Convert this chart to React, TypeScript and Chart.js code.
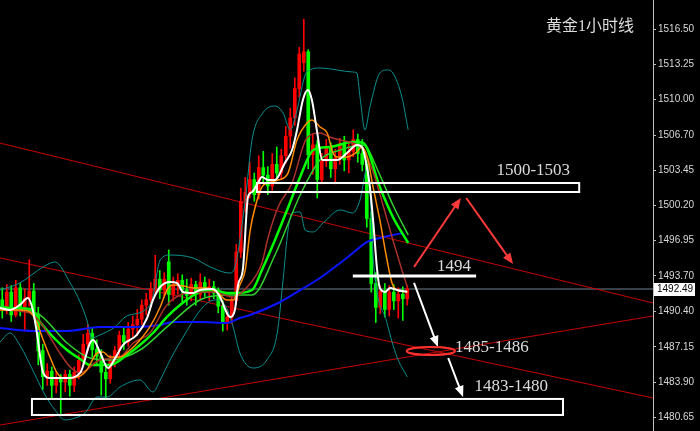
import { useEffect, useRef } from 'react';
import { Chart, registerables } from 'chart.js';

Chart.register(...registerables);

const TITLE = '黄金1小时线';
const Y_TICKS = [1480.65, 1483.9, 1487.15, 1490.4, 1493.7, 1496.95, 1500.2, 1503.45, 1506.7, 1510.0, 1513.25, 1516.5];
const Y_MIN = 1479.38;
const Y_MAX = 1519.18;
const X_MIN = -0.5;
const X_MAX = 144.6;
const LAST_PRICE = 1492.49;

const OPEN = [
  1491.5, 1490.6, 1492.2, 1490.1, 1492.6, 1490.8, 1491.6, 1492.3, 1490.2, 1486.8,
  1484.4, 1484.9, 1483.6, 1484.2, 1483.9, 1484.6, 1483.6, 1484.8, 1485.9, 1487.4,
  1488.4, 1486.9, 1486.3, 1484.8, 1484.2, 1485.9, 1486.8, 1488.2, 1487.6, 1488.8,
  1489.2, 1489.7, 1491.0, 1491.5, 1492.5, 1493.4, 1492.4, 1495.0, 1492.0, 1492.8,
  1493.3, 1492.4, 1491.9, 1492.9, 1492.0, 1493.1, 1492.2, 1492.7, 1492.1, 1490.9,
  1489.4, 1489.9, 1491.4, 1495.9, 1500.6, 1501.4, 1502.6, 1501.2, 1503.7, 1503.0,
  1502.0, 1504.0, 1503.2, 1504.8, 1506.6, 1508.3, 1511.0, 1513.4, 1514.4, 1504.9,
  1505.8, 1502.6, 1504.3, 1505.5, 1503.6, 1504.6, 1505.9, 1504.4, 1505.2, 1506.3,
  1505.0, 1504.0, 1499.0, 1493.0, 1490.8, 1492.3, 1490.6, 1492.2, 1491.4, 1492.0, 1491.6,
];
const HIGH = [
  1492.6, 1492.9, 1492.8, 1493.3, 1493.0, 1492.5, 1495.2, 1493.0, 1490.8, 1487.4,
  1485.6, 1485.3, 1484.8, 1484.6, 1485.0, 1485.0, 1485.3, 1486.4, 1488.3, 1489.2,
  1488.9, 1487.8, 1486.9, 1485.6, 1486.4, 1487.2, 1488.6, 1488.9, 1489.4, 1490.0,
  1490.6, 1491.5, 1492.1, 1493.1, 1495.6, 1494.2, 1494.0, 1496.1, 1493.6, 1493.9,
  1493.8, 1493.4, 1493.5, 1493.2, 1493.9, 1493.6, 1493.4, 1493.2, 1492.6, 1491.4,
  1490.6, 1491.8, 1496.6, 1501.8, 1502.8, 1504.2, 1503.2, 1504.8, 1505.2, 1503.8,
  1505.0, 1505.6, 1505.4, 1507.5, 1509.2, 1512.0, 1514.8, 1517.4, 1514.6, 1506.8,
  1506.2, 1505.0, 1506.3, 1506.0, 1505.4, 1506.4, 1506.6, 1505.9, 1507.2, 1506.8,
  1506.3, 1504.4, 1499.6, 1494.0, 1492.8, 1493.0, 1492.8, 1492.9, 1492.6, 1492.7, 1492.8,
];
const LOW = [
  1489.8, 1490.2, 1489.5, 1489.9, 1490.0, 1488.6, 1490.9, 1489.8, 1485.5, 1483.2,
  1483.6, 1482.4, 1482.9, 1481.0, 1483.0, 1482.6, 1483.0, 1484.2, 1485.4, 1486.8,
  1486.2, 1485.4, 1482.7, 1482.4, 1483.8, 1485.3, 1486.2, 1486.9, 1487.2, 1488.1,
  1488.2, 1489.2, 1490.1, 1490.9, 1492.0, 1491.6, 1491.9, 1491.0, 1491.4, 1492.0,
  1491.2, 1491.0, 1491.4, 1491.0, 1491.6, 1491.8, 1491.4, 1491.6, 1490.3, 1488.6,
  1488.7, 1489.3, 1491.0, 1495.4, 1499.6, 1500.9, 1500.6, 1500.8, 1502.4, 1501.2,
  1501.6, 1502.7, 1502.6, 1504.1, 1505.5, 1507.6, 1510.2, 1512.6, 1503.6, 1503.1,
  1500.9, 1502.2, 1503.8, 1502.8, 1502.2, 1504.0, 1503.4, 1503.2, 1504.7, 1504.2,
  1503.4, 1498.2, 1492.2, 1489.4, 1490.2, 1489.9, 1490.0, 1490.6, 1489.8, 1489.6, 1491.0,
];
const CLOSE = [
  1490.6, 1492.2, 1490.1, 1492.6, 1490.8, 1491.6, 1492.3, 1490.2, 1486.8, 1484.4,
  1484.9, 1483.6, 1484.2, 1483.9, 1484.6, 1483.6, 1484.8, 1485.9, 1487.4, 1488.4,
  1486.9, 1486.3, 1484.8, 1484.2, 1485.9, 1486.8, 1488.2, 1487.6, 1488.8, 1489.2,
  1489.7, 1491.0, 1491.5, 1492.5, 1493.4, 1492.4, 1493.4, 1492.0, 1492.8, 1493.3,
  1492.4, 1491.9, 1492.9, 1492.0, 1493.1, 1492.2, 1492.7, 1492.1, 1490.9, 1489.4,
  1489.9, 1491.4, 1495.9, 1500.6, 1501.4, 1502.6, 1501.2, 1503.7, 1503.0, 1502.0,
  1504.0, 1503.2, 1504.8, 1506.6, 1508.3, 1511.0, 1514.2, 1514.4, 1504.9, 1505.8,
  1502.6, 1504.3, 1505.5, 1503.6, 1504.6, 1505.9, 1504.4, 1505.2, 1506.3, 1505.0,
  1504.0, 1499.0, 1493.0, 1490.8, 1492.3, 1490.6, 1492.2, 1491.4, 1492.0, 1491.6, 1492.5,
];

type Pt = [number, number];

const MA_WHITE: Pt[] = [
  [-0.5, 1490.74], [1.7, 1490.56], [3.9, 1491.02], [5.7, 1491.66], [6.8, 1490.56], [7.7, 1488.43],
  [9.1, 1484.74], [10.6, 1484.27], [14.4, 1484.27], [17.3, 1484.74], [19.5, 1487.51], [20.2, 1487.79],
  [21.7, 1486.68], [23.5, 1485.2], [25.1, 1486.12], [26.8, 1487.32], [29.9, 1488.25], [32.2, 1489.82],
  [33.5, 1491.48], [35.1, 1492.68], [37.3, 1493.14], [38.8, 1493.05], [40.2, 1492.22], [42.4, 1492.12],
  [43.9, 1492.4], [46.8, 1492.49], [48.4, 1491.76], [49.9, 1490.28], [50.6, 1489.91], [51.7, 1490.56],
  [52.4, 1492.86], [53.5, 1494.43], [54.6, 1500.99], [55.5, 1501.45], [56.8, 1502.28], [57.7, 1502.84],
  [59.1, 1502.56], [60.6, 1502.56], [62.8, 1504.13], [64.4, 1505.33], [65.5, 1507.18], [66.8, 1509.95],
  [67.9, 1510.87], [68.8, 1509.95], [69.9, 1507.18], [71.1, 1504.41], [74.4, 1504.41], [76.6, 1505.05],
  [78.8, 1505.79], [79.9, 1505.61], [80.6, 1504.68], [81.7, 1501.91], [82.4, 1498.87], [83.3, 1494.25],
  [83.9, 1492.59], [85.1, 1492.22], [86.2, 1492.59], [87.7, 1492.4], [90.0, 1492.22],
];
const MA_ORANGE: Pt[] = [
  [-0.5, 1490.56], [3.9, 1490.56], [6.2, 1490.37], [7.7, 1489.36], [9.1, 1487.79], [10.6, 1486.22],
  [12.2, 1484.74], [13.5, 1484.27], [15.1, 1484.27], [17.3, 1484.46], [18.8, 1485.02], [21.1, 1486.58],
  [22.4, 1486.68], [23.9, 1486.22], [26.2, 1486.22], [28.4, 1486.86], [30.6, 1487.79], [32.8, 1488.99],
  [35.1, 1490.83], [36.6, 1492.4], [37.9, 1492.86], [40.2, 1492.77], [42.4, 1492.59], [45.5, 1492.59],
  [47.7, 1492.22], [49.9, 1491.48], [51.3, 1491.48], [52.8, 1492.86], [54.0, 1494.25], [55.1, 1497.94],
  [56.2, 1500.07], [57.7, 1501.91], [59.1, 1502.28], [61.3, 1502.56], [63.5, 1503.2], [65.5, 1506.25],
  [67.7, 1507.82], [68.8, 1508.1], [70.6, 1507.45], [72.2, 1506.9], [73.5, 1505.05], [74.4, 1504.68],
  [76.6, 1504.68], [78.8, 1505.15], [79.9, 1505.61], [81.1, 1504.68], [82.4, 1501.91], [83.9, 1498.87],
  [85.5, 1495.17], [86.6, 1493.05], [87.7, 1492.4], [90.0, 1492.22],
];
const MA_BROWN: Pt[] = [
  [-0.5, 1490.56], [6.2, 1490.28], [8.4, 1489.45], [10.6, 1488.06], [12.8, 1486.58], [15.1, 1485.29],
  [17.3, 1484.74], [21.7, 1485.94], [26.2, 1486.22], [29.1, 1487.51], [32.8, 1488.43], [36.6, 1491.02],
  [41.1, 1492.12], [46.8, 1492.22], [51.3, 1491.76], [54.4, 1492.68], [57.7, 1494.9], [59.1, 1497.3],
  [61.3, 1500.07], [64.4, 1502.28], [67.7, 1506.44], [70.6, 1506.9], [72.8, 1506.53], [75.1, 1506.25],
  [77.9, 1505.98], [80.2, 1505.33], [82.4, 1503.3], [84.6, 1500.25], [86.8, 1497.02], [88.8, 1494.25],
  [90.0, 1492.68],
];
const MA_GREEN: Pt[] = [
  [-0.5, 1490.74], [6.2, 1490.65], [8.4, 1489.45], [11.3, 1488.06], [14.4, 1486.86], [17.3, 1486.03],
  [19.5, 1485.48], [23.9, 1485.48], [27.7, 1486.4], [30.6, 1487.32], [33.5, 1488.43], [36.6, 1489.91],
  [39.5, 1491.02], [43.9, 1492.22], [46.8, 1492.4], [49.9, 1492.12], [51.7, 1492.12], [55.5, 1492.4],
  [57.7, 1494.25], [60.6, 1497.02], [63.3, 1499.79], [66.2, 1502.84], [69.1, 1505.33], [72.8, 1505.61],
  [77.9, 1506.07], [80.2, 1505.98], [83.9, 1501.91], [86.8, 1499.14], [90.2, 1496.74],
];
const MA_LIME: Pt[] = [
  [-0.5, 1490.93], [8.4, 1490.09], [14.4, 1487.51], [19.5, 1486.12], [23.9, 1485.94], [30.6, 1486.86],
  [36.6, 1488.99], [43.9, 1491.48], [49.9, 1491.94], [55.5, 1491.94], [60.6, 1495.63], [66.2, 1501.17],
  [70.6, 1504.41], [75.1, 1505.33], [80.2, 1505.79], [83.9, 1503.02], [86.8, 1500.25], [90.2, 1497.48],
];
const MA_BLUE: Pt[] = [
  [-0.5, 1488.89], [6.8, 1488.62], [14.4, 1488.62], [21.7, 1488.99], [29.1, 1488.99], [35.1, 1489.17],
  [37.9, 1489.45], [43.9, 1489.45], [49.9, 1489.36], [52.8, 1489.82], [55.1, 1490.09], [61.3, 1491.2],
  [65.1, 1492.12], [70.6, 1493.51], [75.1, 1494.9], [77.9, 1495.82], [81.1, 1496.84], [83.9, 1497.2],
  [86.8, 1497.48], [89.1, 1497.67],
];
const BB_UPPER: Pt[] = [
  [-0.5, 1492.4], [3.9, 1493.05], [9.1, 1494.53], [11.7, 1494.99], [15.1, 1493.05], [17.3, 1491.29],
  [18.8, 1489.63], [19.9, 1487.97], [21.7, 1488.25], [25.1, 1488.99], [27.3, 1489.91], [31.7, 1490.56],
  [33.3, 1491.48], [35.1, 1495.17], [37.3, 1495.63], [42.4, 1495.36], [46.2, 1494.53], [50.6, 1493.97],
  [51.7, 1494.53], [54.0, 1500.71], [55.5, 1506.25], [57.9, 1508.75], [60.6, 1509.39], [62.4, 1508.75],
  [64.0, 1507.18], [65.5, 1509.02], [67.3, 1512.26], [68.4, 1512.72], [70.6, 1512.9], [77.9, 1512.53],
  [78.8, 1512.44], [79.5, 1510.22], [80.6, 1507.18], [81.7, 1509.3], [83.9, 1512.44], [85.5, 1512.72],
  [86.8, 1512.44], [88.8, 1510.22], [90.2, 1507.18],
];
const BB_LOWER: Pt[] = [
  [-0.5, 1487.6], [1.7, 1488.43], [3.9, 1487.32], [7.3, 1484.55], [9.5, 1482.71], [11.7, 1481.33],
  [13.9, 1480.4], [16.2, 1480.58], [18.4, 1481.05], [21.1, 1482.52], [23.3, 1482.52], [26.2, 1483.45],
  [30.6, 1484.09], [33.5, 1482.98], [35.1, 1484.09], [37.3, 1485.94], [40.2, 1488.06], [44.6, 1490.83],
  [47.3, 1491.48], [49.5, 1491.02], [51.3, 1488.99], [52.8, 1486.58], [55.7, 1485.2], [58.8, 1485.94],
  [61.1, 1488.43], [62.4, 1493.33], [63.5, 1497.94], [64.4, 1499.51], [66.2, 1499.61], [67.3, 1497.94],
  [69.1, 1497.76], [71.3, 1498.59], [75.1, 1499.79], [77.9, 1499.51], [79.5, 1500.71], [81.1, 1503.67],
  [81.7, 1501.64], [82.4, 1495.45], [85.5, 1489.36], [87.7, 1486.22], [90.0, 1484.37],
];

const TREND_LINES: Pt[][] = [
  [[-0.5, 1505.97], [144.6, 1491.2]],
  [[-0.5, 1479.93], [144.6, 1490.0]],
  [[-0.5, 1495.36], [144.6, 1482.43]],
];

// annotation anchors (data coordinates: candle index, price)
const ZONE_BOXES = [
  { x0: 56.6, x1: 128.2, p0: 1501.45, p1: 1502.28 },
  { x0: 6.6, x1: 124.6, p0: 1480.86, p1: 1482.34 },
];
const LEVEL_1494 = { x0: 77.9, x1: 105.3, p: 1493.69 };
const LABELS = [
  { text: '1500-1503', x: 118.0, p: 1503.39 },
  { text: '1494', x: 100.4, p: 1494.53 },
  { text: '1485-1486', x: 108.8, p: 1487.05 },
  { text: '1483-1480', x: 113.1, p: 1483.45 },
];
const TITLE_POS = { x: 130.6, p: 1516.69 };
const RED_ARROWS = [
  [91.5, 1494.53, 101.9, 1500.9],
  [103.1, 1500.9, 113.5, 1494.8],
];
const WHITE_ARROWS = [
  [91.5, 1493.05, 96.8, 1487.14],
  [99.1, 1486.12, 102.4, 1482.52],
];
const TARGET_ELLIPSE = { x0: 89.9, x1: 100.6, p0: 1486.4, p1: 1487.14 };

function drawArrow(ctx: CanvasRenderingContext2D, x0: number, y0: number, x1: number, y1: number, color: string, w: number) {
  const a = Math.atan2(y1 - y0, x1 - x0);
  const L = 11;
  const W = 4.5;
  ctx.strokeStyle = color;
  ctx.lineWidth = w;
  ctx.beginPath();
  ctx.moveTo(x0, y0);
  ctx.lineTo(x1 - L * 0.8 * Math.cos(a), y1 - L * 0.8 * Math.sin(a));
  ctx.stroke();
  ctx.fillStyle = color;
  ctx.beginPath();
  ctx.moveTo(x1, y1);
  ctx.lineTo(x1 - L * Math.cos(a) + W * Math.sin(a), y1 - L * Math.sin(a) - W * Math.cos(a));
  ctx.lineTo(x1 - L * Math.cos(a) - W * Math.sin(a), y1 - L * Math.sin(a) + W * Math.cos(a));
  ctx.closePath();
  ctx.fill();
}

const annotationPlugin = {
  id: 'annotations',
  afterDatasetsDraw(chart: any) {
    const { ctx } = chart;
    const xs = chart.scales.x;
    const ys = chart.scales.y;
    const px = (v: number) => xs.getPixelForValue(v);
    const py = (v: number) => ys.getPixelForValue(v);
    ctx.save();
    ctx.strokeStyle = '#ffffff';
    ctx.lineWidth = 2;
    for (const b of ZONE_BOXES) {
      const X0 = px(b.x0), X1 = px(b.x1), Y0 = py(b.p1), Y1 = py(b.p0);
      ctx.strokeRect(X0, Y0, X1 - X0, Y1 - Y0);
    }
    ctx.lineWidth = 3;
    ctx.beginPath();
    ctx.moveTo(px(LEVEL_1494.x0), py(LEVEL_1494.p));
    ctx.lineTo(px(LEVEL_1494.x1), py(LEVEL_1494.p));
    ctx.stroke();

    for (const a of RED_ARROWS) drawArrow(ctx, px(a[0]), py(a[1]), px(a[2]), py(a[3]), '#ff3a3a', 2);
    for (const a of WHITE_ARROWS) drawArrow(ctx, px(a[0]), py(a[1]), px(a[2]), py(a[3]), '#ffffff', 2);

    const ex0 = px(TARGET_ELLIPSE.x0), ex1 = px(TARGET_ELLIPSE.x1);
    const ey0 = py(TARGET_ELLIPSE.p1), ey1 = py(TARGET_ELLIPSE.p0);
    ctx.strokeStyle = '#ff3030';
    ctx.lineWidth = 2;
    ctx.beginPath();
    ctx.ellipse((ex0 + ex1) / 2, (ey0 + ey1) / 2, (ex1 - ex0) / 2, (ey1 - ey0) / 2, 0, 0, Math.PI * 2);
    ctx.stroke();

    ctx.fillStyle = '#dcdcdc';
    ctx.textAlign = 'center';
    ctx.textBaseline = 'middle';
    ctx.font = '17px "Liberation Serif", "DejaVu Serif", serif';
    for (const l of LABELS) ctx.fillText(l.text, px(l.x), py(l.p));
    ctx.font = '16px "Liberation Serif", "Noto Sans CJK SC", serif';
    ctx.fillText(TITLE, px(TITLE_POS.x), py(TITLE_POS.p));
    ctx.restore();
  },
  afterDraw(chart: any) {
    const { ctx } = chart;
    const ys = chart.scales.y;
    const y = Math.round(ys.getPixelForValue(LAST_PRICE));
    ctx.save();
    ctx.fillStyle = '#ffffff';
    ctx.fillRect(ys.left + 1, y - 6, 41, 13);
    ctx.fillStyle = '#000000';
    ctx.font = '10px "Liberation Sans", Arial, sans-serif';
    ctx.textAlign = 'left';
    ctx.textBaseline = 'middle';
    ctx.fillText(LAST_PRICE.toFixed(2), ys.left + 4, y + 0.5);
    ctx.restore();
  },
};

export default function App() {
  const ref = useRef<HTMLCanvasElement>(null);
  useEffect(() => {
    const canvas = ref.current;
    if (!canvas) return;
    const idx = CLOSE.map((_, i) => i);
    const candleColor = idx.map((i) => (CLOSE[i] >= OPEN[i] ? '#ff0000' : '#00ff00'));
    const line = (pts: Pt[], color: string, width: number, order: number, extra: any = {}) => ({
      type: 'line',
      data: pts.map(([x, y]) => ({ x, y })),
      borderColor: color,
      borderWidth: width,
      pointRadius: 0,
      fill: false,
      cubicInterpolationMode: 'monotone',
      order,
      ...extra,
    });
    const chart = new Chart(canvas, {
      type: 'bar',
      data: {
        datasets: [
          ...TREND_LINES.map((t) => line(t, '#c80000', 1, 30, { cubicInterpolationMode: 'default', tension: 0 })),
          line([[X_MIN, LAST_PRICE], [X_MAX, LAST_PRICE]], '#708090', 1, 31, { cubicInterpolationMode: 'default', tension: 0 }),
          {
            type: 'bar',
            data: idx.map((i) => ({ x: i, y: [LOW[i], HIGH[i]] })),
            backgroundColor: candleColor,
            barThickness: 1,
            grouped: false,
            borderWidth: 0,
            order: 21,
          },
          {
            type: 'bar',
            data: idx.map((i) => ({ x: i, y: [OPEN[i], CLOSE[i]] })),
            backgroundColor: candleColor,
            barThickness: 3,
            grouped: false,
            borderWidth: 0,
            order: 20,
          },
          line(BB_UPPER, '#0a8f8f', 1, 10),
          line(BB_LOWER, '#0a8f8f', 1, 10),
          line(MA_BLUE, '#0a14ff', 2, 9),
          line(MA_LIME, '#2ed12e', 1.5, 8),
          line(MA_GREEN, '#00ff00', 2.5, 7),
          line(MA_BROWN, '#a8322a', 1.5, 6),
          line(MA_ORANGE, '#ff8c00', 1.5, 5),
          line(MA_WHITE, '#ffffff', 2, 4),
        ] as any,
      },
      options: {
        responsive: false,
        animation: false,
        devicePixelRatio: 1,
        events: [],
        layout: { padding: 0 },
        plugins: { legend: { display: false }, tooltip: { enabled: false } },
        scales: {
          x: { type: 'linear', display: false, min: X_MIN, max: X_MAX, offset: false },
          y: {
            type: 'linear',
            position: 'right',
            min: Y_MIN,
            max: Y_MAX,
            afterBuildTicks: (s: any) => {
              s.ticks = Y_TICKS.map((v) => ({ value: v }));
            },
            afterFit: (s: any) => {
              s.width = 47;
              s.paddingTop = 0;
              s.paddingBottom = 0;
            },
            grid: { display: true, drawOnChartArea: false, drawTicks: true, tickLength: 3, color: '#c0c0c0' },
            border: { display: true, color: '#c0c0c0', width: 1 },
            ticks: {
              color: '#d8d8d8',
              font: { family: '"Liberation Sans", Arial, sans-serif', size: 10 },
              padding: 2,
              autoSkip: false,
              callback: (v: any) => Number(v).toFixed(2),
            },
          },
        },
      } as any,
      plugins: [annotationPlugin],
    });
    return () => chart.destroy();
  }, []);
  return (
    <div style={{ position: 'fixed', left: 0, top: 0, width: 700, height: 431, background: '#000' }}>
      <canvas ref={ref} width={700} height={431} style={{ display: 'block' }} />
    </div>
  );
}
